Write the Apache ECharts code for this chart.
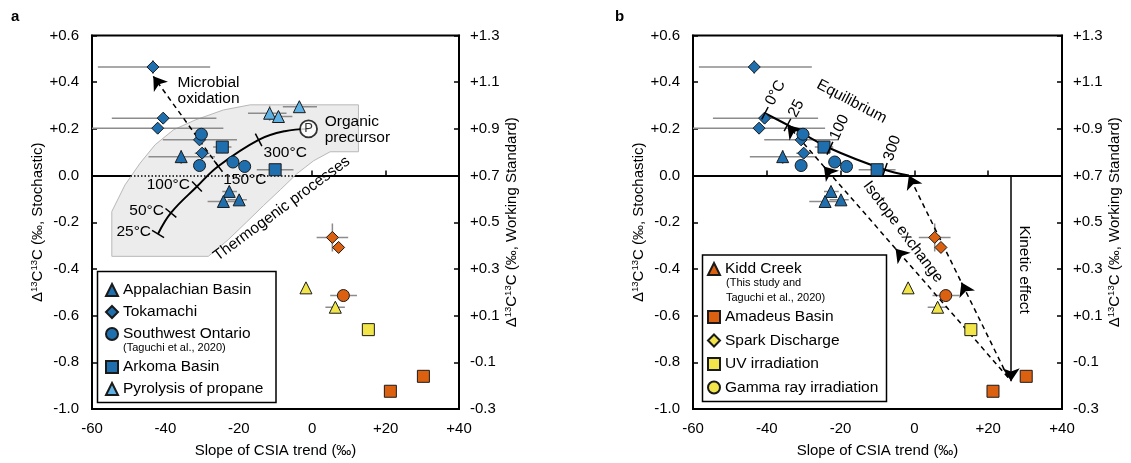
<!DOCTYPE html>
<html>
<head>
<meta charset="utf-8" />
<title></title>
<script src="https://cdn.jsdelivr.net/npm/echarts@6/dist/echarts.min.js"></script>
<style>
    html, body { margin: 0; padding: 0; background: #fff; }
    #main { width: 1131px; height: 463px; }
</style>
</head>
<body>
<div id="main"></div>
<script type="text/javascript">
// rows: [slope of CSIA trend, Δ13C13C stochastic, xLow, xHigh, yLow, yHigh]
var appalachian = [
    [-35.7, 0.081, -44.6, -26.5, 0.05, 0.11],
    [-22.6, -0.068, -24.5, -20.5, -0.09, -0.045],
    [-24.2, -0.111, -28.5, -20.0, -0.13, -0.09],
    [-19.9, -0.104, -23.0, -17.8, -0.125, -0.085]
];
var tokamachi = [
    [-43.4, 0.465, -58.4, -27.8, 0.435, 0.495],
    [-40.6, 0.246, -54.6, -26.1, 0.226, 0.266],
    [-42.1, 0.203, -60.0, -24.2, 0.18, 0.225],
    [-30.7, 0.153, -40.7, -20.5, 0.14, 0.166],
    [-30.0, 0.096, -32.0, -28.0, 0.085, 0.107]
];
var ontario = [
    [-30.2, 0.177, -32.0, -28.4, 0.165, 0.19],
    [-30.7, 0.043, -32.0, -29.4, 0.035, 0.051],
    [-21.6, 0.058, -23.0, -20.2, 0.05, 0.066],
    [-18.4, 0.039, -19.8, -17.0, 0.031, 0.047]
];
var arkoma = [
    [-24.5, 0.122, -27.0, -22.0, 0.096, 0.148],
    [-10.1, 0.025, -15.1, -5.1, 0.015, 0.035]
];
var pyrolysis = [
    [-11.6, 0.267, -17.5, -7.0, 0.235, 0.299],
    [-9.2, 0.253, -13.0, -5.4, 0.23, 0.276],
    [-3.5, 0.295, -8.0, 1.3, 0.275, 0.315]
];
var kiddCreek = [
    [5.5, -0.265, 1.2, 9.8, -0.325, -0.205],
    [7.2, -0.308, 6.2, 8.2, -0.33, -0.29],
    [8.5, -0.514, 4.9, 12.2, -0.53, -0.498]
];
var kiddShapes = ['diamond', 'diamond', 'circle'];
var amadeus = [
    [30.3, -0.86, 30.3, 30.3, -0.885, -0.835],
    [21.3, -0.924, 21.3, 21.3, -0.94, -0.908]
];
var spark = [
    [-1.7, -0.481, -1.7, -1.7, -0.5, -0.462],
    [6.3, -0.564, 3.6, 8.9, -0.585, -0.543]
];
var uv = [
    [15.3, -0.66, 15.3, 15.3, -0.67, -0.65]
];
var gamma = [];

// thermogenic trend (panel a), first five points carry the temperature ticks
var thermoCurve = [[-42, -0.25], [-38.5, -0.16], [-31.4, -0.047], [-25.6, 0.04], [-14.6, 0.153], [-7.5, 0.19], [-1, 0.2]];
var thermoLabels = ['25°C', '50°C', '100°C', '150°C', '300°C'];
var thermoBand = [
    [-54.6, -0.346], [-54.6, -0.154], [-51, -0.04], [-46.9, 0.053], [-42.8, 0.132], [-37.8, 0.196],
    [-31.9, 0.238], [-24.2, 0.281], [-16.9, 0.303], [12.6, 0.303], [12.6, 0.102], [4.9, 0.102],
    [0.35, 0.063], [-4.2, 0.0075], [-8.7, -0.061], [-13.3, -0.129], [-17.8, -0.198], [-22.9, -0.275],
    [-28.3, -0.346]
];
// equilibrium line (panel b)
var eqCurve = [[-40.5, 0.267], [-34.4, 0.217], [-22.9, 0.117], [-8, 0.025], [-1.5, 0]];
var eqLabels = ['0°C', '25', '100', '300'];

var kineticTop = [26.2, 0];
var kineticEnd = [26.2, -0.881];
var exchangeStart = [25.4, -0.865];

var notesA = [
    ['Microbial\noxidation', -36.7, 0.363, 0, 'left'],
    ['Organic\nprecursor', 3.4, 0.196, 0, 'left'],
    ['Thermogenic processes', -8.3, -0.142, 36.4, 'center']
];
var notesB = [
    ['Equilibrium', -17.0, 0.317, -27.6, 'center'],
    ['Isotope exchange', -3.1, -0.241, -53, 'center'],
    ['Kinetic effect', 29.7, -0.403, -90, 'center']
];

var FONT = '"Liberation Sans", Arial, Helvetica, sans-serif';
var BLUE = '#1f6fae', LIGHT = '#5fb0e3', ORANGE = '#db6110', YELLOW = '#f2e54a';

function fmtY(v) {
    var s = (Math.round(v * 10) / 10).toFixed(1);
    if (s === '-0.0') s = '0.0';
    return v > 1e-9 ? '+' + s : s;
}

function xAx(gi) {
    return {
        type: 'value', gridIndex: gi, min: -60, max: 40, interval: 20,
        name: 'Slope of CSIA trend (‰)', nameLocation: 'middle', nameGap: 34,
        nameTextStyle: { fontSize: 15, fontFamily: FONT, color: '#000' },
        axisLine: { lineStyle: { color: '#000', width: 2 } },
        axisTick: { inside: true, length: 5, lineStyle: { color: '#000', width: 1.5 } },
        axisLabel: { margin: 12, fontSize: 15, fontFamily: FONT, color: '#000',
            formatter: function (v) { return v > 0 ? '+' + v : String(v); } },
        splitLine: { show: false }
    };
}

function yAx(gi, right) {
    var what = right ? 'Working Standard' : 'Stochastic';
    return {
        type: 'value', gridIndex: gi, position: right ? 'right' : 'left',
        min: right ? -0.3 : -1, max: right ? 1.3 : 0.6, interval: 0.2,
        name: '{d|Δ}{s|13}{d|C}{s|13}{d|C (‰, ' + what + ')}',
        nameLocation: 'middle', nameRotate: 90, nameGap: right ? 39 : 46,
        nameTextStyle: {
            color: '#000', fontFamily: FONT, fontSize: 15,
            rich: {
                d: { fontSize: 15, fontFamily: FONT, color: '#000' },
                s: { fontSize: 9.5, fontFamily: FONT, color: '#000', padding: [0, 0, 7, 0] }
            }
        },
        axisLine: { show: true, onZero: false, lineStyle: { color: '#000', width: 2 } },
        axisTick: { show: true, inside: true, length: 5, lineStyle: { color: '#000', width: 1.5 } },
        axisLabel: { margin: right ? 11 : 13, fontSize: 15, fontFamily: FONT, color: '#000', formatter: fmtY },
        splitLine: { show: false }
    };
}

function points(name, data, gi, color, shape) {
    return {
        type: 'scatter', name: name, xAxisIndex: gi, yAxisIndex: gi * 2,
        data: data, symbol: shape, symbolSize: 12, z: 5,
        itemStyle: { color: color, borderColor: '#1a1a1a', borderWidth: 1, opacity: 1 },
        emphasis: { disabled: true }
    };
}

function errorBars(data, gi) {
    return {
        type: 'custom', xAxisIndex: gi, yAxisIndex: gi * 2, data: data, z: 2, silent: true, clip: true,
        encode: { x: [0, 2, 3], y: [1, 4, 5] },
        renderItem: function (params, api) {
            var xl = api.coord([api.value(2), api.value(1)]);
            var xh = api.coord([api.value(3), api.value(1)]);
            var yl = api.coord([api.value(0), api.value(4)]);
            var yh = api.coord([api.value(0), api.value(5)]);
            var st = { stroke: '#8c8c8c', lineWidth: 1.5 };
            return {
                type: 'group', children: [
                    { type: 'line', shape: { x1: xl[0], y1: xl[1], x2: xh[0], y2: xh[1] }, style: st },
                    { type: 'line', shape: { x1: yl[0], y1: yl[1], x2: yh[0], y2: yh[1] }, style: st }
                ]
            };
        }
    };
}

function curveTicks(curve, labels, gi, mode) {
    return {
        type: 'custom', xAxisIndex: gi, yAxisIndex: gi * 2, silent: true, z: 6,
        data: labels.map(function (l, i) { return [curve[i][0], curve[i][1], i]; }),
        renderItem: function (params, api) {
            var i = api.value(2);
            var p = api.coord(curve[i]);
            var a = api.coord(curve[Math.max(i - 1, 0)]);
            var b = api.coord(curve[i + 1]);
            var dx = b[0] - a[0], dy = b[1] - a[1];
            var L = Math.sqrt(dx * dx + dy * dy);
            dx /= L; dy /= L;
            var nx = dy, ny = -dx, h = 7;
            var kids = [{
                type: 'line',
                shape: { x1: p[0] - nx * h, y1: p[1] - ny * h, x2: p[0] + nx * h, y2: p[1] + ny * h },
                style: { stroke: '#000', lineWidth: 1.5 }
            }];
            var ts = { text: labels[i], fontSize: 15.5, fontFamily: FONT, fill: '#000', verticalAlign: 'middle' };
            if (mode === 'a') {
                if (i < 3) {
                    ts.align = 'right';
                    kids.push({ type: 'text', x: p[0] - 7, y: p[1] - 2, style: ts });
                } else {
                    ts.align = 'left';
                    kids.push({ type: 'text', x: p[0] + 5, y: p[1] + 13, style: ts });
                }
            } else {
                ts.align = 'left';
                kids.push({ type: 'text', x: p[0] + nx * 10, y: p[1] + ny * 10,
                    rotation: Math.atan2(dx, dy), style: ts });
            }
            return { type: 'group', children: kids };
        }
    };
}

function notes(list, gi) {
    return {
        type: 'custom', xAxisIndex: gi, yAxisIndex: gi * 2, silent: true, z: 6, clip: false,
        data: list.map(function (n) { return [n[1], n[2]]; }),
        renderItem: function (params, api) {
            var n = list[params.dataIndex];
            var p = api.coord([api.value(0), api.value(1)]);
            return {
                type: 'text', x: p[0], y: p[1], rotation: n[3] * Math.PI / 180,
                style: { text: n[0], align: n[4], verticalAlign: 'middle', fontSize: 15.5,
                    lineHeight: 16, fontFamily: FONT, fill: '#000' }
            };
        }
    };
}

function along(a, b, t) {
    return [a[0] + (b[0] - a[0]) * t, a[1] + (b[1] - a[1]) * t];
}

function arrows(segs, gi, dashed) {
    return {
        type: 'lines', coordinateSystem: 'cartesian2d', xAxisIndex: gi, yAxisIndex: gi * 2,
        silent: true, z: 4, symbol: ['none', 'arrow'], symbolSize: [9, 13],
        lineStyle: { color: '#000', width: 1.5, type: dashed ? [5, 4] : 'solid', opacity: 1 },
        data: segs.map(function (s) { return { coords: s }; })
    };
}

function zeroLine() {
    return {
        silent: true, symbol: 'none', label: { show: false },
        lineStyle: { color: '#000', width: 1.5, type: [1.5, 2] },
        data: [{ yAxis: 0 }]
    };
}

var series = [];
// shaded thermogenic band
series.push({
    type: 'custom', xAxisIndex: 0, yAxisIndex: 0, silent: true, z: 1,
    data: [[0, 0]],
    renderItem: function (params, api) {
        return {
            type: 'polygon',
            shape: { points: thermoBand.map(function (p) { return api.coord(p); }) },
            style: { fill: '#ececec', stroke: '#b8b8b8', lineWidth: 1 }
        };
    }
});

[0, 1].forEach(function (gi) {
    var bars = appalachian.concat(tokamachi, ontario, arkoma, kiddCreek, amadeus, spark, uv);
    if (gi === 0) bars = bars.concat(pyrolysis);
    series.push(errorBars(bars, gi));
    series.push(points('Appalachian Basin', appalachian, gi, BLUE, 'triangle'));
    series.push(points('Tokamachi', tokamachi, gi, BLUE, 'diamond'));
    series.push(points('Southwest Ontario', ontario, gi, BLUE, 'circle'));
    series.push(points('Arkoma Basin', arkoma, gi, BLUE, 'rect'));
    if (gi === 0) series.push(points('Pyrolysis of propane', pyrolysis, gi, LIGHT, 'triangle'));
    series.push(points('Kidd Creek', kiddCreek, gi, ORANGE, function (v, p) { return kiddShapes[p.dataIndex]; }));
    series.push(points('Amadeus Basin', amadeus, gi, ORANGE, 'rect'));
    series.push(points('Spark Discharge', spark, gi, YELLOW, 'triangle'));
    series.push(points('UV irradiation', uv, gi, YELLOW, 'rect'));
    series.push(points('Gamma ray irradiation', gamma, gi, YELLOW, 'circle'));
});

// panel a curve, ticks, precursor, microbial arrow
series.push({
    type: 'line', xAxisIndex: 0, yAxisIndex: 0, data: thermoCurve, smooth: 0.4, symbol: 'none',
    silent: true, z: 3, lineStyle: { color: '#000', width: 2 }, markLine: zeroLine()
});
series.push(curveTicks(thermoCurve, thermoLabels, 0, 'a'));
series.push({
    type: 'scatter', xAxisIndex: 0, yAxisIndex: 0, silent: true, z: 7,
    data: [thermoCurve[thermoCurve.length - 1]], symbol: 'circle', symbolSize: 17,
    itemStyle: { color: '#fff', borderColor: '#000', borderWidth: 1.8 },
    label: { show: true, position: 'inside', formatter: 'P', fontSize: 13, fontFamily: FONT, color: '#000' }
});
series.push(arrows([[thermoCurve[3], [-43.3, 0.425]]], 0, true));
series.push(notes(notesA, 0));

// panel b curve, ticks, arrows
series.push({
    type: 'line', xAxisIndex: 1, yAxisIndex: 2, data: eqCurve, smooth: 0.3, symbol: 'none',
    silent: true, z: 3, lineStyle: { color: '#000', width: 2 }, markLine: zeroLine()
});
series.push(curveTicks(eqCurve, eqLabels, 1, 'b'));
series.push(arrows([[kineticTop, kineticEnd]], 1, false));
var toCold = eqCurve[1], toHot = eqCurve[eqCurve.length - 1];
series.push(arrows([[exchangeStart, toCold], [exchangeStart, toHot]], 1, true));
series.push(arrows([
    [along(exchangeStart, toCold, 0.49), along(exchangeStart, toCold, 0.51)],
    [along(exchangeStart, toCold, 0.82), along(exchangeStart, toCold, 0.835)],
    [along(exchangeStart, toHot, 0.45), along(exchangeStart, toHot, 0.47)]
], 1, false));
series.push(notes(notesB, 1));

var legendText = { fontSize: 15.5, lineHeight: 16, color: '#000', fontFamily: FONT };
function legend(left, top, gap, items) {
    return {
        left: left, top: top, orient: 'vertical', itemWidth: 12, itemHeight: 12, itemGap: gap,
        padding: 0, selectedMode: false, textStyle: legendText,
        data: items.map(function (it) { return { name: it[0], icon: it[1] }; })
    };
}

var option = {
    animation: false,
    backgroundColor: '#fff',
    grid: [
        { left: 92, top: 35.5, width: 367, height: 374, show: true, borderColor: '#000', borderWidth: 2 },
        { left: 693, top: 35.5, width: 369, height: 374, show: true, borderColor: '#000', borderWidth: 2 }
    ],
    xAxis: [xAx(0), xAx(1)],
    yAxis: [yAx(0, false), yAx(0, true), yAx(1, false), yAx(1, true)],
    legend: [
        legend(105, 282, 6, [['Appalachian Basin', 'triangle'], ['Tokamachi', 'diamond'], ['Southwest Ontario', 'circle']]),
        legend(105, 359, 6, [['Arkoma Basin', 'rect'], ['Pyrolysis of propane', 'triangle']]),
        legend(707, 261, 6, [['Kidd Creek', 'triangle']]),
        legend(707, 309, 7.5, [['Amadeus Basin', 'rect'], ['Spark Discharge', 'diamond'], ['UV irradiation', 'rect'], ['Gamma ray irradiation', 'circle']])
    ],
    graphic: [
        { type: 'rect', shape: { x: 97.5, y: 271.5, width: 178.5, height: 131 }, style: { fill: 'none', stroke: '#000', lineWidth: 1.5 } },
        { type: 'rect', shape: { x: 702.5, y: 255, width: 184, height: 146.5 }, style: { fill: 'none', stroke: '#000', lineWidth: 1.5 } },
        { type: 'text', x: 123, y: 348.3, style: { text: '(Taguchi et al., 2020)', fontSize: 11, fontFamily: FONT, fill: '#000', verticalAlign: 'middle' } },
        { type: 'text', x: 726, y: 290.5, style: { text: '(This study and\nTaguchi et al., 2020)', fontSize: 11, lineHeight: 14.4, fontFamily: FONT, fill: '#000', verticalAlign: 'middle' } },
        { type: 'text', x: 11, y: 17, style: { text: 'a', fontSize: 15, fontWeight: 'bold', fontFamily: FONT, fill: '#000', verticalAlign: 'middle' } },
        { type: 'text', x: 615, y: 17, style: { text: 'b', fontSize: 15, fontWeight: 'bold', fontFamily: FONT, fill: '#000', verticalAlign: 'middle' } }
    ],
    series: series
};

var myChart = echarts.init(document.getElementById('main'));
myChart.setOption(option);
</script>
</body>
</html>
